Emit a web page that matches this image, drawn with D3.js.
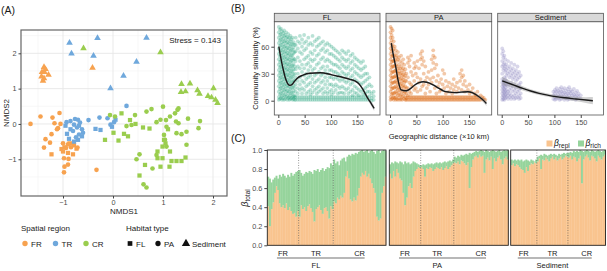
<!DOCTYPE html>
<html><head><meta charset="utf-8">
<script src="https://cdn.jsdelivr.net/npm/d3@7/dist/d3.min.js"></script>
<style>body{margin:0;background:#fff}svg{display:block;font-family:"Liberation Sans",Arial,sans-serif}</style>
</head><body><svg id="c" width="607" height="271"></svg>
<script>
// ================= DATA =================
const regions = ["FR","TR","CR"];
const habitats = ["FL","PA","Sediment"];
const regionColors = ["#F7A24F","#6FA8DC","#9ACD4E"];
const stressLabel = "Stress = 0.143";
const aTicks = [-1,0,1,2];

// Panel A: NMDS coordinates [NMDS1, NMDS2]
const frFL = [[-1.23,-0.86],[-1.0,-0.78],[-0.9,-0.82],[-0.8,-0.86],[-0.97,-0.66],[-0.87,-0.55],[-0.78,-0.6],[-0.73,-0.7],[-1.03,-0.71]];
const frPA = [[-1.65,0.0],[-1.45,0.21],[-1.21,0.18],[-1.07,0.31],[-1.17,0.02],[-1.10,-0.12],[-1.23,-0.29],[-1.35,-0.43],[-1.26,-0.53],[-1.38,-0.67],[-1.0,-0.55],[-0.9,-0.58],[-0.8,-0.55],[-0.71,-0.67],[-0.94,-0.68],[-0.84,-0.66],[-0.98,-0.97],[-0.89,-0.99],[-0.97,-1.21],[-0.9,-1.15],[-0.98,-1.37],[-0.33,-1.30],[-1.12,-0.15],[-1.05,0.0]];
const frSed = [[-0.41,1.59],[-1.38,1.61],[-1.42,1.47],[-1.37,1.47],[-1.29,1.39],[-1.43,1.34],[-1.38,1.29],[-1.40,1.22],[-1.35,1.55]];
const trFL = [[-0.95,-0.05],[-0.92,-0.28],[-0.85,-0.15],[-0.88,-0.42],[-0.7,-0.45],[-0.62,-0.35],[-0.78,-0.5],[-0.35,-0.14],[-0.25,-0.17],[0.05,0.12],[-0.02,-0.08],[-0.68,-0.05]];
const trPA = [[-0.49,0.11],[-0.27,0.18],[-0.11,0.16],[-0.93,0.05],[-0.85,0.08],[-0.76,0.14],[-0.7,0.12],[-0.66,0.04],[-0.78,-0.02],[-0.72,-0.1],[-0.62,-0.15],[-0.8,-0.2],[-0.68,-0.3],[-0.74,-0.38],[-0.6,-0.25],[0.27,0.51],[-0.05,-0.02],[0.02,0.05]];
const trSed = [[-0.87,2.30],[-0.31,2.43],[-0.83,1.99],[-0.39,1.93],[0.67,2.44],[0.47,1.76],[0.21,1.36],[-0.05,1.01]];
const crFL = [[-0.16,-0.45],[0.11,-0.47],[0.22,-0.28],[0.01,-0.25],[0.64,-1.16],[0.95,-1.21],[1.13,-1.21],[0.53,-1.46],[1.17,-1.05],[1.27,-1.05],[1.37,-1.05],[0.89,-0.97],[0.99,-0.97],[1.14,-0.78],[1.02,-0.45],[0.99,-0.64],[0.34,0.11],[0.89,-0.78],[1.45,-0.95],[0.45,0.0],[0.6,-0.1],[0.73,-0.13],[1.1,-0.15],[1.05,-0.55],[0.3,-0.35],[0.17,0.30]];
const crPA = [[0.67,0.35],[0.77,0.42],[1.24,0.30],[1.29,0.40],[1.06,0.11],[1.14,0.21],[1.26,0.07],[1.31,0.02],[0.87,0.05],[1.74,0.08],[1.71,-0.12],[1.37,-0.29],[1.27,-0.26],[1.47,-0.22],[1.07,-0.08],[1.02,-0.31],[1.04,-0.45],[1.07,-0.64],[1.47,-0.59],[0.87,-0.88],[0.53,-0.86],[0.47,-1.0],[0.79,-1.26],[0.61,-1.71],[0.67,-1.8],[0.27,-0.06],[0.37,-0.03],[-0.06,0.25],[0.04,0.21],[0.44,0.25],[1.0,0.49],[1.31,0.44],[0.95,0.12],[1.5,0.15]];
const crSed = [[-0.59,2.14],[0.95,2.03],[1.37,1.13],[1.54,1.14],[1.36,0.90],[1.45,0.92],[1.69,0.95],[1.73,0.85],[1.90,0.79],[2.01,1.01],[1.97,0.75],[2.05,0.68],[2.09,0.59]];

// Panel B: community similarity (%) vs geographic distance (x10 km); columns [distance, [similarities]]
const bFL = [
[1,[82,76,70,64,58,52,46,40,34,28,22,16,10,4,1]],[3,[79,73,67,61,55,49,43,37,31,25,19,13,7,2]],
[5,[80,74,68,62,56,50,44,38,32,26,20,14,8,3]],[7,[77,71,65,59,53,47,41,35,29,23,17,11,5,1]],
[9,[75,69,63,57,51,45,39,33,27,21,15,9,3]],[11,[78,72,66,60,54,48,42,36,30,24,18,12,6,1]],
[13,[73,67,61,55,49,43,37,31,25,19,13,7,2]],[15,[76,70,64,58,52,46,40,34,28,22,16,10,4]],
[17,[71,65,59,53,47,41,35,29,23,17,11,5,1]],[19,[74,68,62,56,50,44,38,32,26,20,14,8,3]],
[21,[70,64,58,52,46,40,34,28,22,16,10,4,1]],[23,[72,66,60,54,48,42,36,30,24,18,12,6,2]],
[25,[68,62,56,50,44,38,32,26,20,14,8,3]],[27,[70,63,57,51,45,39,33,27,21,15,9,4,1]],
[29,[65,59,53,47,41,35,29,23,17,11,5,2]],[31,[62,54,46,38,30,22,14,6,1,4]],
[33,[70,62,55,44,35,26,18,10,1,4]],[37,[66,58,48,38,30,22,14,8,1,4]],[41,[72,64,54,44,36,26,18,12,1,4]],
[45,[68,60,52,40,32,22,14,8,1,4]],[49,[73,64,56,46,36,28,20,12,1,4]],[53,[66,58,48,40,30,24,16,8,1,4]],
[57,[70,62,50,42,34,26,18,10,1,4]],[61,[64,54,46,38,28,20,12,7,1,4]],[65,[72,62,52,44,34,24,16,9,1,4]],
[69,[66,56,46,36,28,20,12,1,4]],[73,[68,60,50,40,30,22,14,8,1,4]],[77,[70,62,52,42,32,24,16,10,1,4]],
[81,[64,56,46,36,28,20,12,1,4]],[85,[66,58,48,38,30,22,14,8,1,4]],[89,[62,54,44,34,26,18,10,1,4]],
[93,[64,56,46,38,30,22,14,8,1,4]],[97,[62,52,44,34,26,18,10,1,4]],[101,[60,52,42,34,26,18,12,7,1,4]],
[105,[58,50,40,32,24,16,9,1,4]],[109,[56,48,40,32,26,18,12,1,4]],[113,[54,46,38,30,24,16,8,1,4]],
[117,[52,44,36,28,22,14,9,1,4]],[121,[56,48,40,32,24,16,9,1,4]],[125,[54,46,38,30,22,14,8,1,4]],
[129,[52,44,36,28,20,12,1,4]],[133,[55,46,38,30,22,14,8,1,4]],[137,[50,42,34,26,18,10,1,4]],
[141,[52,44,36,28,20,12,6,1,4]],[145,[48,40,32,24,16,9,1,4]],[149,[46,38,30,22,14,8,1,4]],
[153,[44,36,28,20,12,6,1,4]],[157,[42,34,26,18,10,1,4]],[161,[44,36,28,20,12,7,1,4]],
[165,[38,30,22,14,8,1,4]],[169,[30,24,16,10,1,4]],[173,[26,18,10,5,1]],[177,[16,8,3,0]],[181,[10,5,1]]
];
const bPA = [
[1,[82,76,70,64,58,52,46,40,34,28,22,16,10,4,1]],[3,[80,73,67,61,55,49,43,37,31,25,19,13,7,2]],
[5,[78,70,62,56,50,44,38,32,26,20,14,8,3]],[7,[66,58,50,44,38,32,26,20,14,8,1,4]],
[9,[60,52,45,39,33,27,21,15,9,3]],[11,[56,48,40,34,28,22,16,10,4,1]],[13,[50,44,38,32,26,20,14,8,2]],
[15,[54,46,36,30,24,18,12,6,1]],[17,[48,40,33,27,21,15,9,3]],[19,[44,36,30,24,18,12,6,1]],
[21,[50,38,31,25,19,13,7,2]],[23,[42,34,28,22,16,10,4,1]],[25,[46,36,29,23,17,11,5]],
[27,[40,32,26,20,14,8,2]],[29,[35,28,22,16,10,4,1]],[31,[30,22,14,8,3,1]],
[34,[48,42,26,14,6,1,4]],[37,[45,38,20,10,1,4]],[40,[50,32,18,8,1,4]],[43,[28,16,1,4]],
[46,[42,36,22,12,1,4]],[49,[38,30,14,1,4]],[52,[44,26,10,1,4]],[55,[36,20,1,4]],
[58,[52,46,24,12,1,4]],[61,[55,48,40,16,1,4]],[64,[44,30,18,1,4]],[67,[38,22,8,1,4]],
[70,[26,14,1,4]],[73,[32,18,1,4]],[76,[24,10,1,4]],[79,[46,34,20,1,4]],[82,[56,50,42,26,1,4]],
[85,[48,36,14,1,4]],[88,[40,22,8,1,4]],[91,[28,16,1,4]],[94,[20,10,1,4]],[97,[24,12,1,4]],
[100,[34,18,1,4]],[103,[30,14,1,4]],[106,[22,8,1,4]],[109,[16,1,4]],[112,[20,10,1,4]],
[115,[14,1,4]],[118,[18,8,1,4]],[121,[24,12,1,4]],[124,[16,1,4]],[127,[20,10,1,4]],
[130,[14,1,4]],[133,[30,22,1,4]],[136,[34,26,12,1,4]],[139,[28,18,1,4]],[142,[22,10,1,4]],
[145,[16,1,4]],[148,[12,1,4]],[151,[18,8,1,4]],[154,[10,1,4]],[157,[14,1,4]],[160,[8,1,4]],
[163,[6,1,4]],[166,[10,1,4]],[169,[4,1]],[172,[6,1]],[175,[2,4]],[178,[1,3]],[181,[1]]
];
const bSed = [
[1,[58,52,44,38,30,24,20,16,12,8,4,1]],[3,[55,48,40,34,22,18,14,10,6,2]],[5,[50,42,36,26,21,17,13,9,5,1]],
[7,[46,38,32,24,19,15,11,7,3]],[9,[40,34,28,22,18,12,8,4]],[12,[44,36,30,20,16,10,6,2]],
[15,[38,32,26,18,12,8,4]],[18,[42,34,28,20,14,6,2]],[21,[36,30,24,16,10,4]],[24,[40,32,26,18,12,6,2]],
[27,[34,28,22,14,8,3]],[30,[38,30,24,16,10,4]],[33,[32,26,18,12,6,2]],[36,[28,20,14,8,3]],
[98,[10,6,2]],[101,[12,8,4,1]],[104,[14,10,5,2]],[107,[11,7,3]],[110,[13,9,5,1]],[113,[15,10,6,2]],
[116,[12,8,4]],[119,[14,9,5,1]],[122,[11,7,3]],[125,[13,8,4,1]],[128,[15,10,6,2]],[131,[12,8,3]],
[134,[10,6,2]],[137,[13,7,3]],[140,[9,5,1]],[143,[11,6,2]],[146,[8,4]],[150,[6,2]]
];
// smoothed fits
const flCurveX = [1,4,7,10,13,16,19,22,26,30,35,47,60,80,100,111,125,136,145,152,160,168,175,182];
const flCurveY = [60,50,41,33,26,21,18,17,18,21,24.5,28.5,30.5,31,29,27.5,25.5,23.7,22,19.3,13,4.5,-2,-8.5];
const flCurveSE = [3,2.6,2.2,1.9,1.6,1.4,1.3,1.2,1.1,1,1,1,1,1,1,1,1,1,1,1.1,1.3,1.8,2.4,3];
const paCurveX = [2.5,5.7,10.8,15.2,21,31,40,47,55,63,70,82,92,101,112,123,135,148,156,164,175,183];
const paCurveY = [64,52.7,37.8,23,12,11,14,17.5,20,21,20.5,17.5,14,11,9.5,9,9.5,10,9,6.3,1.5,-3];
const paCurveSE = [3,2.6,2.2,1.8,1.4,1.2,1.1,1.1,1.1,1.1,1.1,1.1,1.1,1.1,1.1,1.1,1.1,1.2,1.3,1.6,2.2,3];
const sedCurveX = [1,20,40,55,71,87,103,120,141,160,173];
const sedCurveY = [22,18,13.7,10.8,8.2,6.2,4.5,3.2,1.9,0.7,0];
const sedCurveSE = [4.5,3.2,2.4,2,1.9,1.9,2,2.2,2.6,3.2,4];
const bXTicks = [0,50,100,150];
const bYTicks = [0,30,60];

// Panel C: beta total and beta replacement per sample
const flFRtot=[0.72,0.70,0.66,0.69,0.71,0.73,0.70,0.74,0.72,0.75,0.73,0.71,0.74,0.72,0.76,0.73,0.75,0.77,0.78];
const flFRrep=[0.41,0.20,0.38,0.45,0.55,0.62,0.58,0.44,0.40,0.42,0.39,0.44,0.37,0.40,0.36,0.33,0.34,0.30,0.36];
const flTRtot=[0.79,0.76,0.73,0.75,0.77,0.76,0.78,0.77,0.75,0.79,0.78,0.80,0.77,0.79,0.81,0.78,0.80,0.82,0.81,0.86,0.84];
const flTRrep=[0.30,0.42,0.38,0.40,0.36,0.41,0.43,0.39,0.35,0.25,0.38,0.40,0.42,0.37,0.33,0.39,0.40,0.36,0.28,0.41,0.38];
const flCRtot=[0.90,0.86,0.88,0.84,0.89,0.91,0.92,0.88,0.93,0.95,0.94,0.96,0.95,0.97,0.96,0.98,0.99,1.00,0.98,0.99,1.00,0.97,0.99,1.00,0.98,0.96,0.99,1.00,0.97,0.99,1.00,0.99];
const flCRrep=[0.46,0.44,0.50,0.48,0.52,0.50,0.55,0.72,0.78,0.70,0.48,0.46,0.50,0.47,0.52,0.60,0.72,0.76,0.74,0.78,0.72,0.75,0.70,0.65,0.60,0.55,0.30,0.26,0.28,0.55,0.62,0.72];
const paFRtot=[0.85,0.87,0.86,0.88,0.87,0.86,0.88,0.87,0.85,0.88,0.86,0.87,0.85,0.86,0.88,0.87,0.86,0.85,0.84];
const paFRrep=[0.75,0.70,0.78,0.72,0.80,0.76,0.70,0.68,0.55,0.42,0.50,0.62,0.65,0.60,0.72,0.78,0.80,0.82,0.81];
const paTRtot=[0.84,0.85,0.84,0.85,0.86,0.85,0.86,0.85,0.86,0.87,0.86,0.87,0.86,0.87,0.88,0.87,0.88,0.89,0.88,0.90];
const paTRrep=[0.82,0.80,0.72,0.81,0.80,0.82,0.81,0.78,0.80,0.82,0.81,0.80,0.82,0.79,0.81,0.83,0.80,0.82,0.84,0.86];
const paCRtot=[0.93,0.92,0.94,0.93,0.95,0.94,0.95,0.96,0.95,0.97,0.96,0.97,0.98,0.99,0.98,0.99,1.00,0.99,0.98,1.00,0.99,0.98,0.99,1.00,0.99,0.98,0.99,1.00,0.98,0.99,1.00,0.99,1.00];
const paCRrep=[0.87,0.86,0.88,0.85,0.89,0.88,0.86,0.84,0.87,0.60,0.82,0.90,0.93,0.94,0.92,0.95,0.93,0.94,0.76,0.90,0.92,0.89,0.93,0.80,0.91,0.88,0.92,0.94,0.90,0.85,0.91,0.93,0.90];
const sedFRtot=[0.90,0.89,0.90,0.89,0.90,0.89,0.90,0.88,0.89,0.90,0.89,0.88,0.90,0.89,0.88,0.90];
const sedFRrep=[0.84,0.86,0.83,0.85,0.84,0.82,0.80,0.79,0.76,0.82,0.78,0.84,0.86,0.85,0.87,0.86];
const sedTRtot=[0.93,0.94,0.95,0.94,0.96,0.95,0.94,0.95,0.96,0.95,0.96,0.95,0.94,0.96,0.95,0.96,0.97,0.96,0.97];
const sedTRrep=[0.88,0.91,0.80,0.90,0.89,0.92,0.90,0.88,0.91,0.93,0.90,0.92,0.89,0.91,0.93,0.90,0.92,0.94,0.93];
const sedCRtot=[0.97,0.98,0.97,0.99,0.98,0.99,0.98,1.00,0.99,0.98,0.99,1.00,0.99,0.98,1.00,0.99,0.98,0.99,1.00,0.99,0.98,0.99,1.00];
const sedCRrep=[0.92,0.94,0.90,0.93,0.92,0.88,0.91,0.94,0.65,0.90,0.93,0.95,0.92,0.89,0.94,0.93,0.91,0.88,0.94,0.92,0.90,0.93,0.95];
const cYTicks = [0,0.2,0.4,0.6,0.8,1.0];

// ================= DRAW =================
const svg = d3.select("#c");
const TICK = "#4d4d4d", TXT = "#1a1a1a";
function txt(g,x,y,s,o){const t=g.append("text").attr("x",x).attr("y",y).text(s).attr("font-size",(o&&o.fs)||8).attr("fill",(o&&o.fill)||TXT).attr("text-anchor",(o&&o.anchor)||"start");if(o&&o.rot)t.attr("transform",`rotate(${o.rot},${x},${y})`);return t;}
function styleAxis(a){a.select(".domain").remove();a.selectAll("line").attr("stroke","#444");a.selectAll("text").attr("fill",TICK).attr("font-size",7.3).attr("font-family",null);}

// panel labels
txt(svg,1,14,"(A)",{fs:10.5});
txt(svg,231,12,"(B)",{fs:10.5});
txt(svg,231,142,"(C)",{fs:10.5});

// ---------- Panel A ----------
const A = {l:21,r:227,t:30,b:196};
const ax = d3.scaleLinear().domain([-1.84,2.28]).range([A.l,A.r]);
const ay = d3.scaleLinear().domain([-2.04,2.66]).range([A.b,A.t]);
const gA = svg.append("g");
gA.append("rect").attr("x",A.l).attr("y",A.t).attr("width",A.r-A.l).attr("height",A.b-A.t).attr("fill","#fff");
const minX=[-1.5,-0.5,0.5,1.5], minY=[-1.5,-0.5,0.5,1.5,2.5];
gA.selectAll(".mx").data(minX).join("line").attr("x1",d=>ax(d)).attr("x2",d=>ax(d)).attr("y1",A.t).attr("y2",A.b).attr("stroke","#f2f2f2").attr("stroke-width",0.6);
gA.selectAll(".my").data(minY).join("line").attr("y1",d=>ay(d)).attr("y2",d=>ay(d)).attr("x1",A.l).attr("x2",A.r).attr("stroke","#f2f2f2").attr("stroke-width",0.6);
gA.selectAll(".gx").data(aTicks).join("line").attr("x1",d=>ax(d)).attr("x2",d=>ax(d)).attr("y1",A.t).attr("y2",A.b).attr("stroke","#e6e6e6").attr("stroke-width",0.9);
gA.selectAll(".gy").data(aTicks).join("line").attr("y1",d=>ay(d)).attr("y2",d=>ay(d)).attr("x1",A.l).attr("x2",A.r).attr("stroke","#e6e6e6").attr("stroke-width",0.9);
const shapes = [d3.symbolSquare,d3.symbolCircle,d3.symbolTriangle];
const shapeSize = [18,17,19];
const groupsA = [[frFL,0,0],[frPA,0,1],[frSed,0,2],[trFL,1,0],[trPA,1,1],[trSed,1,2],[crFL,2,0],[crPA,2,1],[crSed,2,2]];
groupsA.forEach(([pts,ri,hi])=>{
  gA.selectAll(null).data(pts).join("path")
    .attr("d",d3.symbol().type(shapes[hi]).size(shapeSize[hi]))
    .attr("transform",d=>`translate(${ax(d[0])},${ay(d[1])})`)
    .attr("fill",regionColors[ri]);
});
gA.append("rect").attr("x",A.l).attr("y",A.t).attr("width",A.r-A.l).attr("height",A.b-A.t).attr("fill","none").attr("stroke","#666").attr("stroke-width",1.2);
const axA = gA.append("g").attr("transform",`translate(0,${A.b})`).call(d3.axisBottom(ax).tickValues(aTicks).tickFormat(d3.format("d")).tickSize(2.5).tickPadding(1.5));
const ayA = gA.append("g").attr("transform",`translate(${A.l},0)`).call(d3.axisLeft(ay).tickValues(aTicks).tickFormat(d3.format("d")).tickSize(2.5).tickPadding(2));
styleAxis(axA);styleAxis(ayA);
txt(gA,(A.l+A.r)/2,214,"NMDS1",{fs:8,anchor:"middle"});
txt(gA,9,(A.t+A.b)/2,"NMDS2",{fs:8,anchor:"middle",rot:-90});
txt(gA,A.r-6,43,stressLabel,{fs:8,anchor:"end"});
// legend A
txt(gA,21,231,"Spatial region",{fs:8});
regions.forEach((r,i)=>{
  const x=25+i*30.5;
  gA.append("circle").attr("cx",x).attr("cy",243.5).attr("r",2.7).attr("fill",regionColors[i]);
  txt(gA,x+6,246.5,r,{fs:8});
});
txt(gA,126,231,"Habitat type",{fs:8});
habitats.forEach((h,i)=>{
  const x=130+i*28;
  gA.append("path").attr("d",d3.symbol().type(shapes[i]).size(i===2?30:22)).attr("transform",`translate(${x},243.5)`).attr("fill","#111");
  txt(gA,x+6,246.5,h,{fs:8});
});

// ---------- Panel B ----------
const B = {left:274.3,w:105.7,gap:6,stripTop:13.3,top:21.7,bottom:115};
const by = d3.scaleLinear().domain([-15.9,87.8]).range([B.bottom,B.top]);
const bFacets = [
  {name:habitats[0],cols:bFL,cx:flCurveX,cy:flCurveY,se:flCurveSE,color:"#1B9E77",op:0.3},
  {name:habitats[1],cols:bPA,cx:paCurveX,cy:paCurveY,se:paCurveSE,color:"#D95F02",op:0.34},
  {name:habitats[2],cols:bSed,cx:sedCurveX,cy:sedCurveY,se:sedCurveSE,color:"#7570B3",op:0.28}];
const defs = svg.append("defs");
bFacets.forEach((f,i)=>{
  const x0 = B.left+i*(B.w+B.gap);
  const bx = d3.scaleLinear().domain([-7.6,193]).range([x0,x0+B.w]);
  const g = svg.append("g");
  defs.append("clipPath").attr("id","clipB"+i).append("rect").attr("x",x0).attr("y",B.top).attr("width",B.w).attr("height",B.bottom-B.top);
  const inner = g.append("g").attr("clip-path",`url(#clipB${i})`);
  const pts=[]; f.cols.forEach(([x,ys])=>ys.forEach(y=>pts.push([x,y])));
  inner.selectAll("circle").data(pts).join("circle").attr("cx",d=>bx(d[0])).attr("cy",d=>by(d[1])).attr("r",1.9).attr("fill",f.color).attr("fill-opacity",f.op);
  const idx = d3.range(f.cx.length);
  inner.append("path").attr("d",d3.area().curve(d3.curveMonotoneX).x(j=>bx(f.cx[j])).y0(j=>by(f.cy[j]-f.se[j])).y1(j=>by(f.cy[j]+f.se[j]))(idx)).attr("fill","#999").attr("fill-opacity",0.45);
  inner.append("path").attr("d",d3.line().curve(d3.curveMonotoneX).x(j=>bx(f.cx[j])).y(j=>by(f.cy[j]))(idx)).attr("fill","none").attr("stroke","#1a1a1a").attr("stroke-width",1.4);
  g.append("rect").attr("x",x0).attr("y",B.top).attr("width",B.w).attr("height",B.bottom-B.top).attr("fill","none").attr("stroke","#555").attr("stroke-width",0.8);
  g.append("rect").attr("x",x0).attr("y",B.stripTop).attr("width",B.w).attr("height",B.top-B.stripTop).attr("fill","#d9d9d9").attr("stroke","#555").attr("stroke-width",0.8);
  txt(g,x0+B.w/2,B.top-1.6,f.name,{fs:7.5,anchor:"middle"});
  const xa = g.append("g").attr("transform",`translate(0,${B.bottom})`).call(d3.axisBottom(bx).tickValues(bXTicks).tickSize(3).tickPadding(2));
  styleAxis(xa);
  if(i===0){styleAxis(g.append("g").attr("transform",`translate(${x0},0)`).call(d3.axisLeft(by).tickValues(bYTicks).tickSize(3).tickPadding(2)));}
});
txt(svg,258,(B.top+B.bottom)/2,"Community similarity (%)",{fs:7.5,anchor:"middle",rot:-90});
txt(svg,439,139,"Geographic distance (×10 km)",{fs:7.5,anchor:"middle"});

// ---------- Panel C ----------
const C = {top:150,bottom:245.3};
const cy = d3.scaleLinear().domain([0,1]).range([C.bottom,C.top]);
const cPanels = [
  {name:habitats[0],l:267.3,r:386,tot:[flFRtot,flTRtot,flCRtot],rep:[flFRrep,flTRrep,flCRrep]},
  {name:habitats[1],l:389.3,r:508.3,tot:[paFRtot,paTRtot,paCRtot],rep:[paFRrep,paTRrep,paCRrep]},
  {name:habitats[2],l:510.7,r:605.5,tot:[sedFRtot,sedTRtot,sedCRtot],rep:[sedFRrep,sedTRrep,sedCRrep]}];
const COL_REPL="#F9C48F", COL_RICH="#96D49C";
cPanels.forEach((p,pi)=>{
  const bars=[]; const starts=[];
  p.tot.forEach((arr,ri)=>{starts.push(bars.length);arr.forEach((t,k)=>bars.push({id:bars.length,region:ri,tot:t,rep:p.rep[ri][k]}));});
  const cx = d3.scaleBand().domain(bars.map(d=>d.id)).range([p.l,p.r]).paddingInner(0);
  const g = svg.append("g");
  g.selectAll(".rp").data(bars).join("rect").attr("x",d=>cx(d.id)).attr("width",cx.bandwidth()+0.3).attr("y",d=>cy(d.rep)).attr("height",d=>cy(0)-cy(d.rep)).attr("fill",COL_REPL);
  g.selectAll(".rc").data(bars).join("rect").attr("x",d=>cx(d.id)).attr("width",cx.bandwidth()+0.3).attr("y",d=>cy(d.tot)).attr("height",d=>cy(d.rep)-cy(d.tot)).attr("fill",COL_RICH);
  [starts[1],starts[2]].forEach(s=>g.append("line").attr("x1",cx(s)).attr("x2",cx(s)).attr("y1",C.top).attr("y2",C.bottom).attr("stroke","#555").attr("stroke-width",0.6).attr("stroke-dasharray","1,1.5"));
  g.append("rect").attr("x",p.l).attr("y",C.top).attr("width",p.r-p.l).attr("height",C.bottom-C.top).attr("fill","none").attr("stroke","#222").attr("stroke-width",0.9);
  const centers = regions.map((r,ri)=>{const a=cx(starts[ri]); const e=ri<2?cx(starts[ri+1]):p.r; return (a+e)/2;});
  regions.forEach((r,ri)=>txt(g,centers[ri],256,r,{fs:7.5,anchor:"middle"}));
  g.append("line").attr("x1",centers[0]-6).attr("x2",centers[2]+5).attr("y1",258).attr("y2",258).attr("stroke","#333").attr("stroke-width",0.7);
  txt(g,centers[1],267.5,p.name,{fs:7.5,anchor:"middle"});
  if(pi===0){
    styleAxis(g.append("g").attr("transform",`translate(${p.l},0)`).call(d3.axisLeft(cy).tickValues(cYTicks).tickFormat(d3.format(".1f")).tickSize(3).tickPadding(2)));
  }
});
// y label beta_total
const yl = svg.append("text").attr("transform","translate(248,198) rotate(-90)").attr("text-anchor","middle").attr("font-size",9).attr("fill",TXT);
yl.append("tspan").text("β").attr("font-style","italic");
yl.append("tspan").text("total").attr("font-size",6.5).attr("dy",2);
// legend C
const legC = [[COL_REPL,"repl",546.5],[COL_RICH,"rich",578]];
legC.forEach(([c,s,x])=>{
  svg.append("rect").attr("x",x).attr("y",140.5).attr("width",6).attr("height",6).attr("fill",c);
  const t=svg.append("text").attr("x",x+7.5).attr("y",146).attr("font-size",8.5).attr("fill",TXT);
  t.append("tspan").text("β").attr("font-style","italic");
  t.append("tspan").text(s).attr("font-size",6.5).attr("dy",1.5);
});
</script></body></html>
